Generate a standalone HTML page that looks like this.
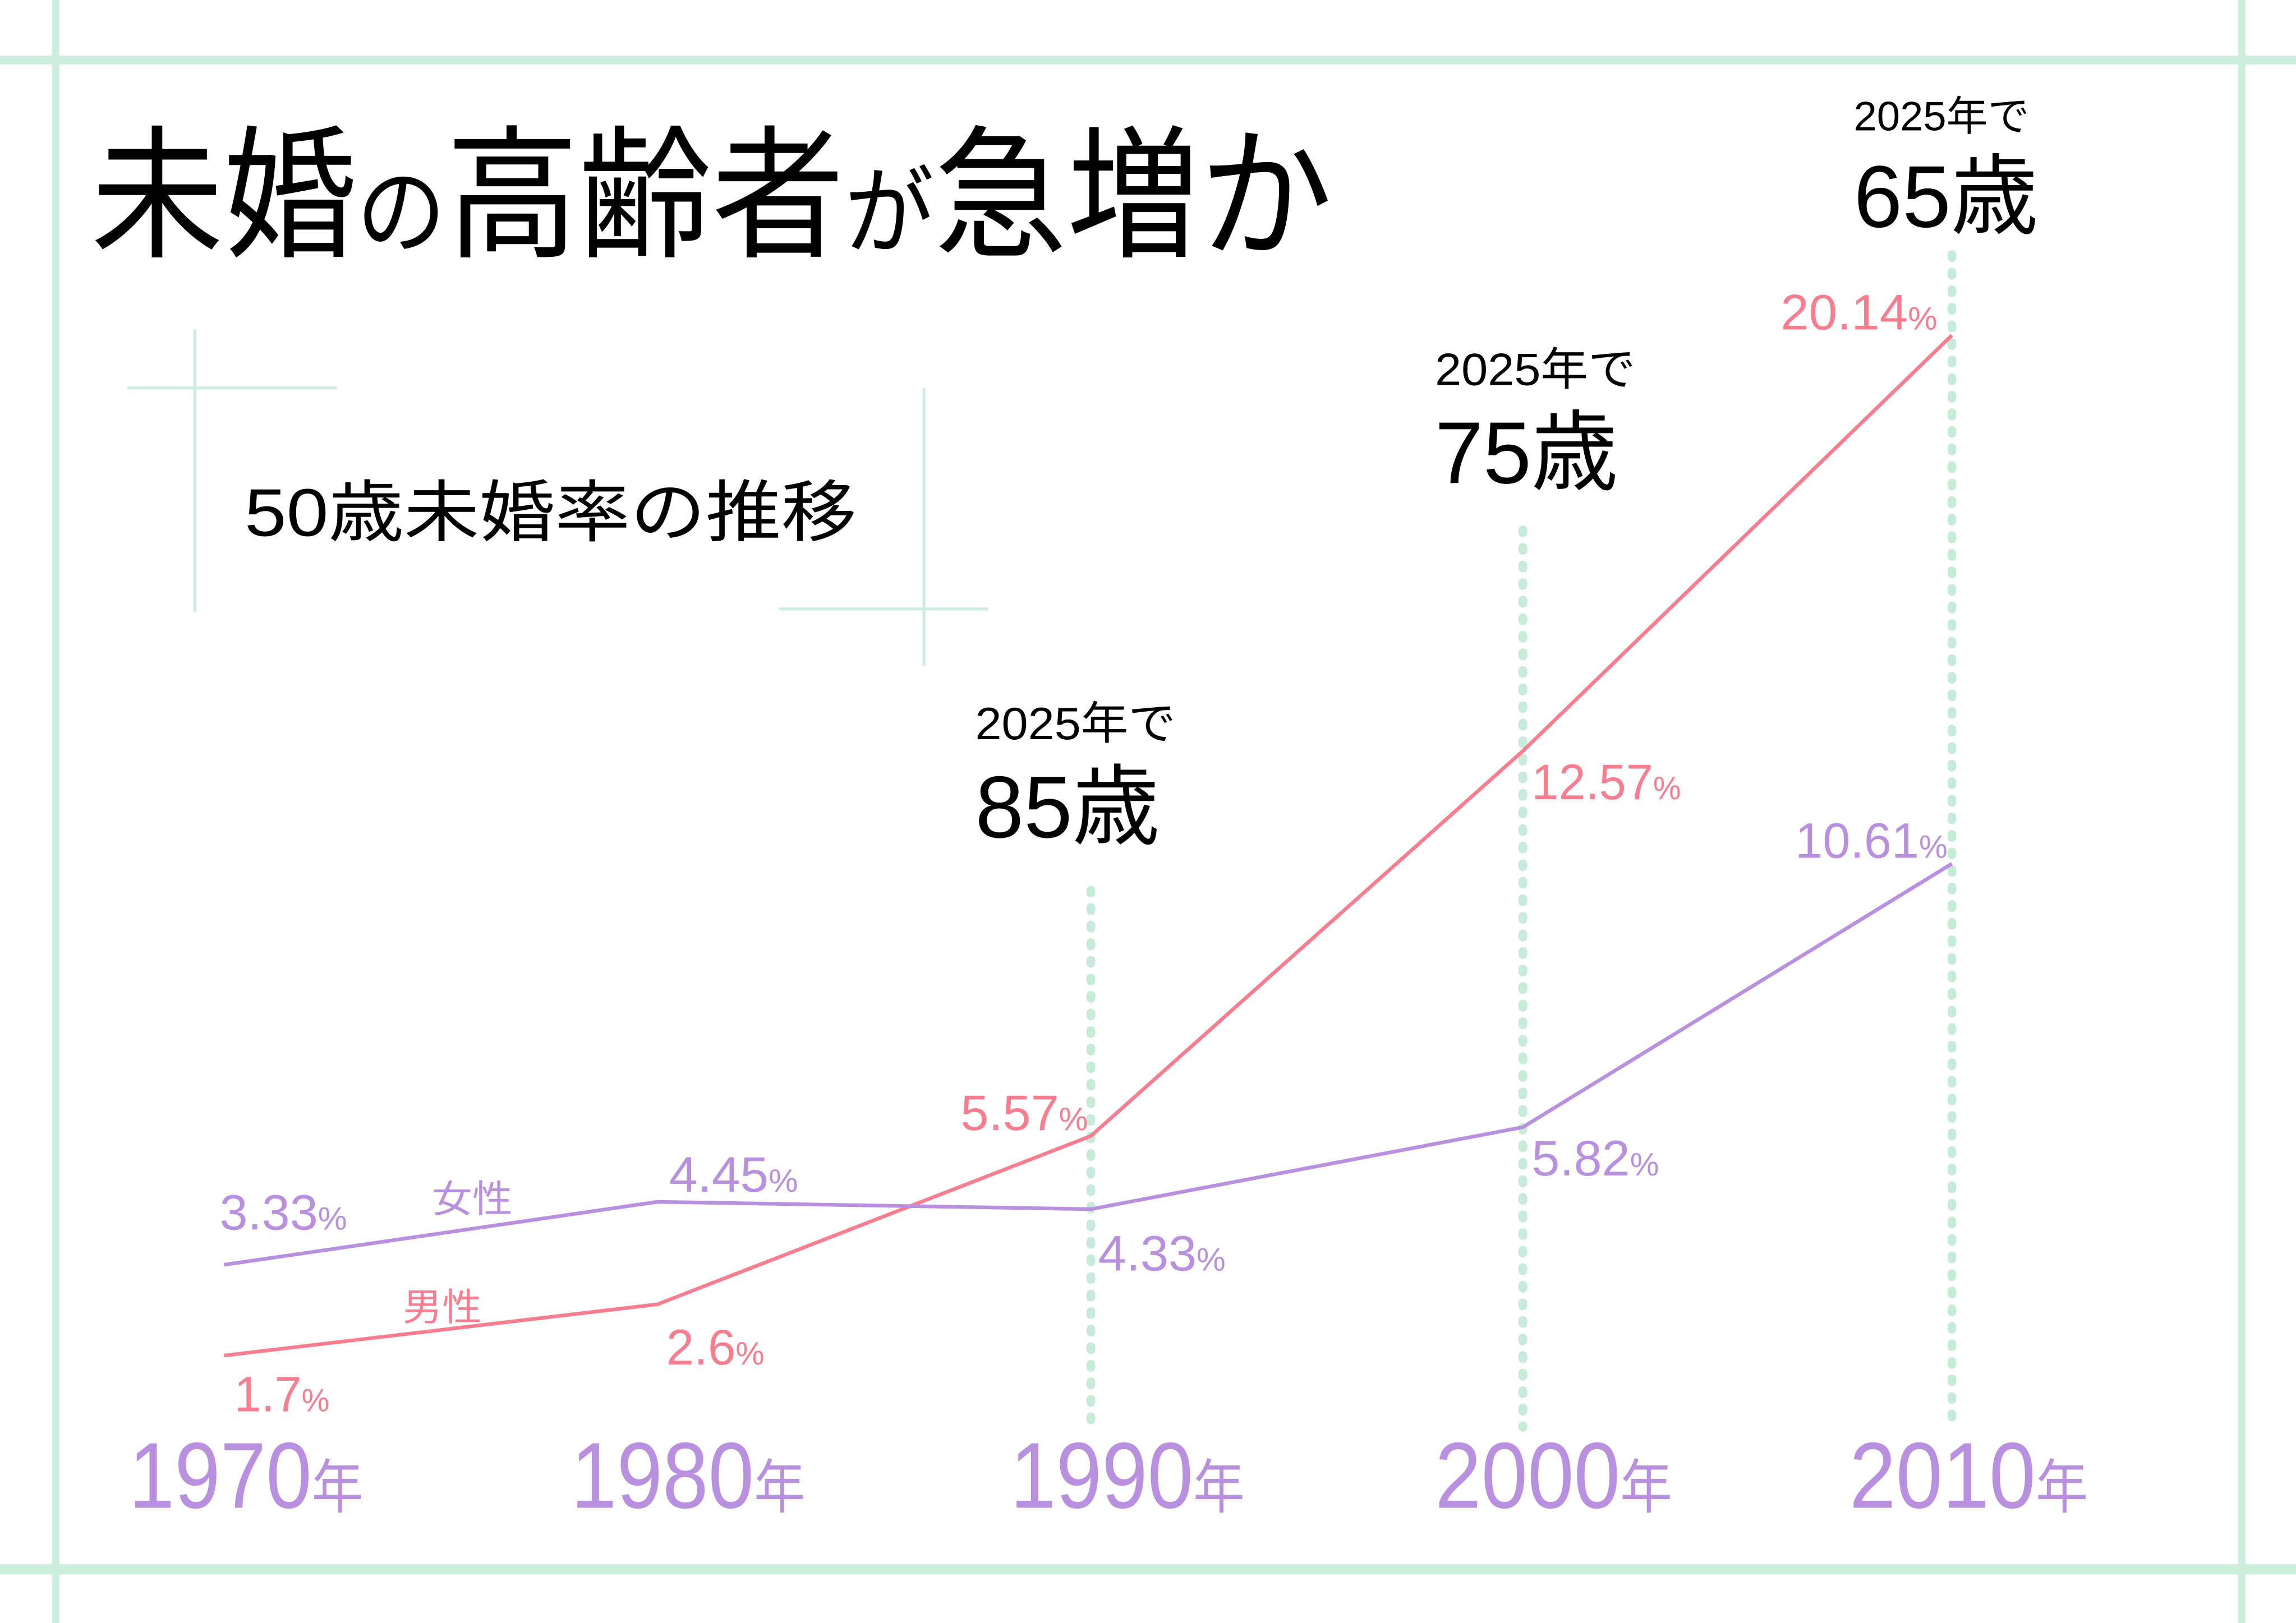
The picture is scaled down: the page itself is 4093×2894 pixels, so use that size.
<!DOCTYPE html>
<html><head><meta charset="utf-8"><style>html,body{margin:0;padding:0;background:#fff}svg{display:block}</style></head>
<body>
<svg width="4093" height="2894" viewBox="0 0 1568 1108.7" preserveAspectRatio="none" xmlns="http://www.w3.org/2000/svg" font-family="Liberation Sans, Noto Sans CJK JP, sans-serif">
<rect width="1568" height="1108.7" fill="#fff"/>
<g stroke="#cdeedd" fill="none">
<line x1="38" y1="0" x2="38" y2="1108.7" stroke-width="5"/>
<line x1="1531" y1="0" x2="1531" y2="1108.7" stroke-width="5"/>
<line x1="0" y1="41" x2="1568" y2="41" stroke-width="6"/>
<line x1="0" y1="1072" x2="1568" y2="1072" stroke-width="7"/>
<g stroke-width="2" stroke="#cbeee0">
<line x1="133" y1="225" x2="133" y2="418"/>
<line x1="87" y1="265" x2="230" y2="265"/>
<line x1="631" y1="265" x2="631" y2="455"/>
<line x1="532" y1="416" x2="675" y2="416"/>
</g>
<g stroke="#c6ecd9" stroke-width="6" stroke-linecap="round" stroke-dasharray="2 10">
<line x1="745" y1="608" x2="745" y2="975"/>
<line x1="1040" y1="362" x2="1040" y2="975"/>
<line x1="1333" y1="174" x2="1333" y2="975"/>
</g>
<polyline points="153,926 449,891 745,776 1040,513 1333,229" stroke="#f87e8f" stroke-width="2.5"/>
<polyline points="153,864 449,821 745,826 1040,770 1333,590" stroke="#b990e0" stroke-width="2.5"/>
</g>
<text x="62" y="168" font-size="98" textLength="848" lengthAdjust="spacingAndGlyphs" fill="#000">未婚<tspan font-size="66">の</tspan>高齢者<tspan font-size="66">が</tspan>急増か</text>
<text x="167" y="366" font-size="46" textLength="418" lengthAdjust="spacingAndGlyphs" fill="#000">50歳未婚率の推移</text>
<g fill="#000">
<text x="666" y="505" font-size="31" textLength="137" lengthAdjust="spacingAndGlyphs">2025年で</text>
<text x="666" y="572" font-size="60" textLength="126" lengthAdjust="spacingAndGlyphs">85歳</text>
<text x="980" y="263" font-size="31" textLength="137" lengthAdjust="spacingAndGlyphs">2025年で</text>
<text x="980" y="330" font-size="60" textLength="125" lengthAdjust="spacingAndGlyphs">75歳</text>
<text x="1266" y="89" font-size="28" textLength="120" lengthAdjust="spacingAndGlyphs">2025年で</text>
<text x="1266" y="155" font-size="60" textLength="126" lengthAdjust="spacingAndGlyphs">65歳</text>
</g>
<g fill="#f87e8f" font-size="34">
<text x="160" y="964" textLength="65" lengthAdjust="spacingAndGlyphs">1.7<tspan font-size="22">%</tspan></text>
<text x="455" y="932" textLength="67" lengthAdjust="spacingAndGlyphs">2.6<tspan font-size="22">%</tspan></text>
<text x="656" y="772" textLength="87" lengthAdjust="spacingAndGlyphs">5.57<tspan font-size="22">%</tspan></text>
<text x="1046" y="546" textLength="102" lengthAdjust="spacingAndGlyphs">12.57<tspan font-size="22">%</tspan></text>
<text x="1216" y="225" textLength="107" lengthAdjust="spacingAndGlyphs">20.14<tspan font-size="22">%</tspan></text>
<text x="275" y="902" font-size="26" textLength="54" lengthAdjust="spacingAndGlyphs">男性</text>
</g>
<g fill="#b990e0" font-size="34">
<text x="150" y="840" textLength="87" lengthAdjust="spacingAndGlyphs">3.33<tspan font-size="22">%</tspan></text>
<text x="457" y="814" textLength="88" lengthAdjust="spacingAndGlyphs">4.45<tspan font-size="22">%</tspan></text>
<text x="750" y="868" textLength="87" lengthAdjust="spacingAndGlyphs">4.33<tspan font-size="22">%</tspan></text>
<text x="1046" y="803" textLength="87" lengthAdjust="spacingAndGlyphs">5.82<tspan font-size="22">%</tspan></text>
<text x="1226" y="586" textLength="104" lengthAdjust="spacingAndGlyphs">10.61<tspan font-size="22">%</tspan></text>
<text x="295" y="828" font-size="26" textLength="55" lengthAdjust="spacingAndGlyphs">女性</text>
</g>
<g fill="#b990e0" font-size="64">
<text x="88" y="1030" textLength="160" lengthAdjust="spacingAndGlyphs">1970<tspan font-size="40">年</tspan></text>
<text x="390" y="1030" textLength="160" lengthAdjust="spacingAndGlyphs">1980<tspan font-size="40">年</tspan></text>
<text x="690" y="1030" textLength="160" lengthAdjust="spacingAndGlyphs">1990<tspan font-size="40">年</tspan></text>
<text x="980" y="1030" textLength="162" lengthAdjust="spacingAndGlyphs">2000<tspan font-size="40">年</tspan></text>
<text x="1263" y="1030" textLength="163" lengthAdjust="spacingAndGlyphs">2010<tspan font-size="40">年</tspan></text>
</g>
</svg>
</body></html>
